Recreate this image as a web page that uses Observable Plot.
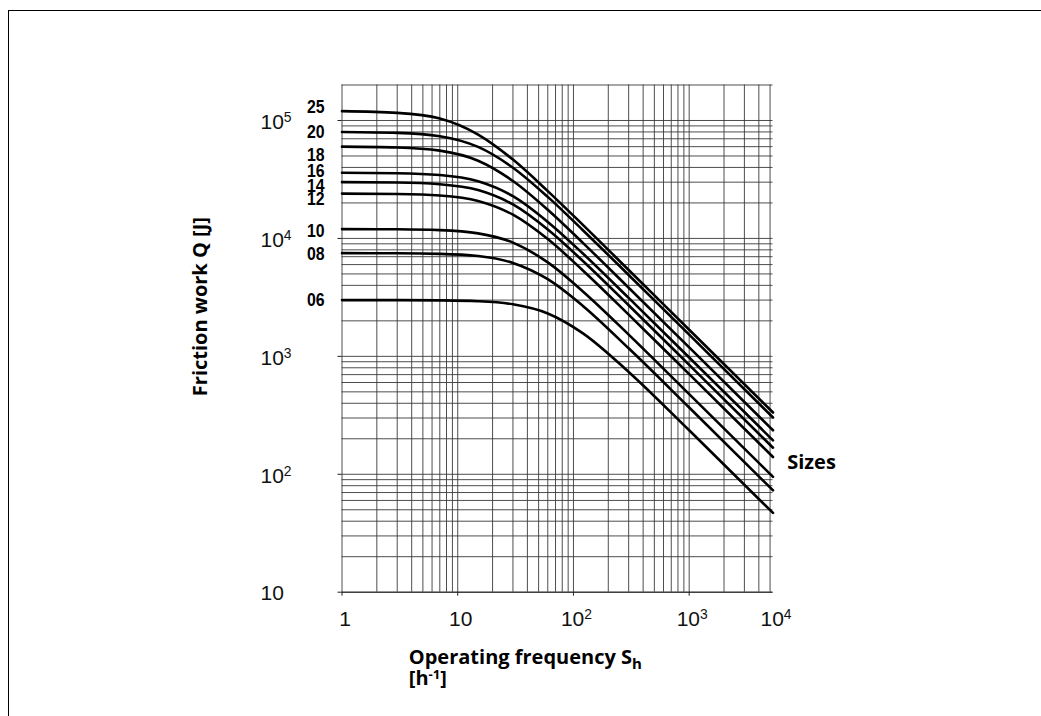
<!DOCTYPE html>
<html>
<head>
<meta charset="utf-8">
<script src="https://cdn.jsdelivr.net/npm/d3@7"></script>
<script src="https://cdn.jsdelivr.net/npm/@observablehq/plot@0.6"></script>
<style>
  html, body { margin: 0; padding: 0; overflow: hidden; background: #fff; width: 1041px; height: 716px; }
  #frame { position: absolute; left: 8px; top: 10px; width: 2000px; height: 2000px;
           border-left: 1.6px solid #000; border-top: 1.6px solid #000; }
  #chart { position: absolute; left: 0; top: 0; }
</style>
</head>
<body>
<div id="frame"></div>
<div id="chart"></div>
<script>
// ---------- data ----------
const sizes = ["25", "20", "18", "16", "14", "12", "10", "08", "06"];
const frequency = [1, 3, 7, 15, 30, 60, 120, 300, 1000, 5300]; // S_h [1/h]
const q25 = [120000, 116000, 104000, 76000, 46600, 25200, 13100, 5400, 1680, 334];
const q20 = [80000, 78600, 73600, 59700, 39800, 22500, 11800, 4900, 1530, 303];
const q18 = [60000, 59100, 55500, 45600, 30700, 17500, 9210, 3820, 1190, 236];
const q16 = [36000, 35700, 34500, 30500, 22800, 13800, 7480, 3130, 977, 194];
const q14 = [30000, 29800, 28800, 25700, 19400, 11900, 6470, 2710, 847, 168];
const q12 = [24000, 23800, 23100, 20800, 15900, 9870, 5380, 2260, 706, 140];
const q10 = [12000, 11950, 11760, 11040, 9210, 6260, 3570, 1530, 478, 95];
const q08 = [7500, 7480, 7400, 7090, 6200, 4510, 2690, 1170, 368, 73];
const q06 = [3000, 3000, 2984, 2933, 2764, 2312, 1576, 738, 236, 47];
const seriesBySize = [q25, q20, q18, q16, q14, q12, q10, q08, q06];

const xTickValues = [1, 10, 100, 1000, 5300];
const xTickLabels = ["1", "10", "10^2", "10^3", "10^4"];
const yTickValues = [10, 100, 1000, 10000, 100000];
const yTickLabels = ["10", "10^2", "10^3", "10^4", "10^5"];

const yTitle = "Friction work Q [J]";
const xTitle1 = "Operating frequency S_h";
const xTitle2 = "[h^-1]";
const seriesTitle = "Sizes";

// ---------- layout helpers (not data) ----------
const labelNudge = {"25": -4, "20": 0, "18": 9, "16": -2, "14": 4, "12": 6, "10": 2, "08": 1, "06": 0};
const gridX = [];
for (const d of [1, 10, 100, 1000]) for (let k = 1; k <= 9; k++) if (k * d <= 5000) gridX.push(k * d);
const gridY = [];
for (const d of [10, 100, 1000, 10000, 100000]) for (let k = 1; k <= 9; k++) if (k * d <= 200000) gridY.push(k * d);

const rows = sizes.flatMap((s, i) => frequency.map((f, j) => ({size: s, S: f, Q: seriesBySize[i][j]})));

const tickFont = "'Liberation Sans', Arial, Helvetica, sans-serif";
const titleFont = "'Open Sans', 'Noto Sans', sans-serif";
const gridColor = "#3a3a3a";

const plot = Plot.plot({
  width: 1041,
  height: 716,
  marginLeft: 341.5,
  marginRight: 268.5,
  marginTop: 84.5,
  marginBottom: 124.3,
  style: {background: "transparent", overflow: "visible"},
  x: {type: "log", domain: [1, 5300], label: null, axis: null},
  y: {type: "log", domain: [10, 200000], label: null, axis: null},
  marks: [
    Plot.ruleY(gridY, {stroke: gridColor, strokeWidth: 0.9}),
    Plot.ruleX(gridX, {stroke: gridColor, strokeWidth: 0.9}),
    Plot.ruleY([10], {stroke: "#222", strokeWidth: 1}),
    Plot.axisX(xTickValues.slice(0, 4), {tickSize: 4, tickFormat: () => "", label: null, stroke: "#222"}),
    Plot.axisY(yTickValues, {tickSize: 4, tickFormat: () => "", label: null, stroke: "#222"}),
    Plot.text(yTickValues, {
      y: d => d, frameAnchor: "left", text: (d, i) => yTickLabels[i],
      textAnchor: "start", dx: -81.5, dy: 1.5, fontSize: 21, fontFamily: tickFont, fill: "#111"
    }),
    Plot.text(xTickValues, {
      x: d => d, frameAnchor: "bottom", text: (d, i) => xTickLabels[i],
      lineAnchor: "top", dy: 18.5, dx: 3, fontSize: 21, fontFamily: tickFont, fill: "#111"
    }),
    Plot.line(rows, {x: "S", y: "Q", z: "size", stroke: "#000", strokeWidth: 2.6, curve: "monotone-x"}),
    ...sizes.map((s, i) => Plot.text([s], {
      x: () => frequency[0], y: () => seriesBySize[i][0], text: d => d,
      textAnchor: "end", dx: -17.5, dy: labelNudge[s], fontSize: 18, fontWeight: "bold",
      fontFamily: tickFont, fill: "#000"
    })),
    Plot.text([yTitle], {
      frameAnchor: "left", rotate: -90, dx: -135.5, dy: -32, textAnchor: "middle", lineAnchor: "bottom",
      fontSize: 20, fontWeight: "bold", fontFamily: titleFont, fill: "#000"
    }),
    Plot.text([xTitle1], {
      frameAnchor: "bottom-left", dx: 66.8, dy: 71.6, textAnchor: "start", lineAnchor: "bottom",
      fontSize: 20, fontWeight: "bold", fontFamily: titleFont, fill: "#000"
    }),
    Plot.text([xTitle2], {
      frameAnchor: "bottom-left", dx: 66.8, dy: 93.2, textAnchor: "start", lineAnchor: "bottom",
      fontSize: 20, fontWeight: "bold", fontFamily: titleFont, fill: "#000"
    }),
    Plot.text([seriesTitle], {
      frameAnchor: "right", dx: 14.2, dy: 130.2, textAnchor: "start", lineAnchor: "bottom",
      fontSize: 20, fontWeight: "bold", fontFamily: titleFont, fill: "#000"
    })
  ]
});

document.getElementById("chart").append(plot);

// Condense the bold size labels (narrow bold look of the original).
d3.select(plot).selectAll("g[font-weight=bold] text").each(function() {
  if (/^\d\d$/.test(this.textContent)) {
    const t = this.getAttribute("transform") || "";
    this.setAttribute("transform", t + " scale(0.88,1)");
  }
});

// Turn "^x" into superscripts and "_x" into subscripts, as real SVG text.
const SVGNS = "http://www.w3.org/2000/svg";
d3.select(plot).selectAll("text").each(function() {
  const s = this.textContent;
  if (!/[\^_]/.test(s)) return;
  const fs = parseFloat(getComputedStyle(this).fontSize) || 16;
  const re = /([\^_])(-?\w+)/g;
  const parts = [];
  let last = 0, m;
  while ((m = re.exec(s))) {
    if (m.index > last) parts.push({t: "n", s: s.slice(last, m.index)});
    parts.push({t: m[1], s: m[2]});
    last = m.index + m[0].length;
  }
  if (last < s.length) parts.push({t: "n", s: s.slice(last)});
  while (this.firstChild) this.removeChild(this.firstChild);
  let shift = 0;
  for (const p of parts) {
    const ts = document.createElementNS(SVGNS, "tspan");
    ts.textContent = p.s;
    let target = 0, size = null;
    if (p.t === "^") { target = -0.3 * fs; size = 0.66 * fs; }
    else if (p.t === "_") { target = 0.25 * fs; size = 0.75 * fs; }
    const dy = target - shift;
    if (dy !== 0) ts.setAttribute("dy", dy.toFixed(2));
    if (size) ts.setAttribute("font-size", size.toFixed(2));
    shift = target;
    this.appendChild(ts);
  }
});
</script>
</body>
</html>
